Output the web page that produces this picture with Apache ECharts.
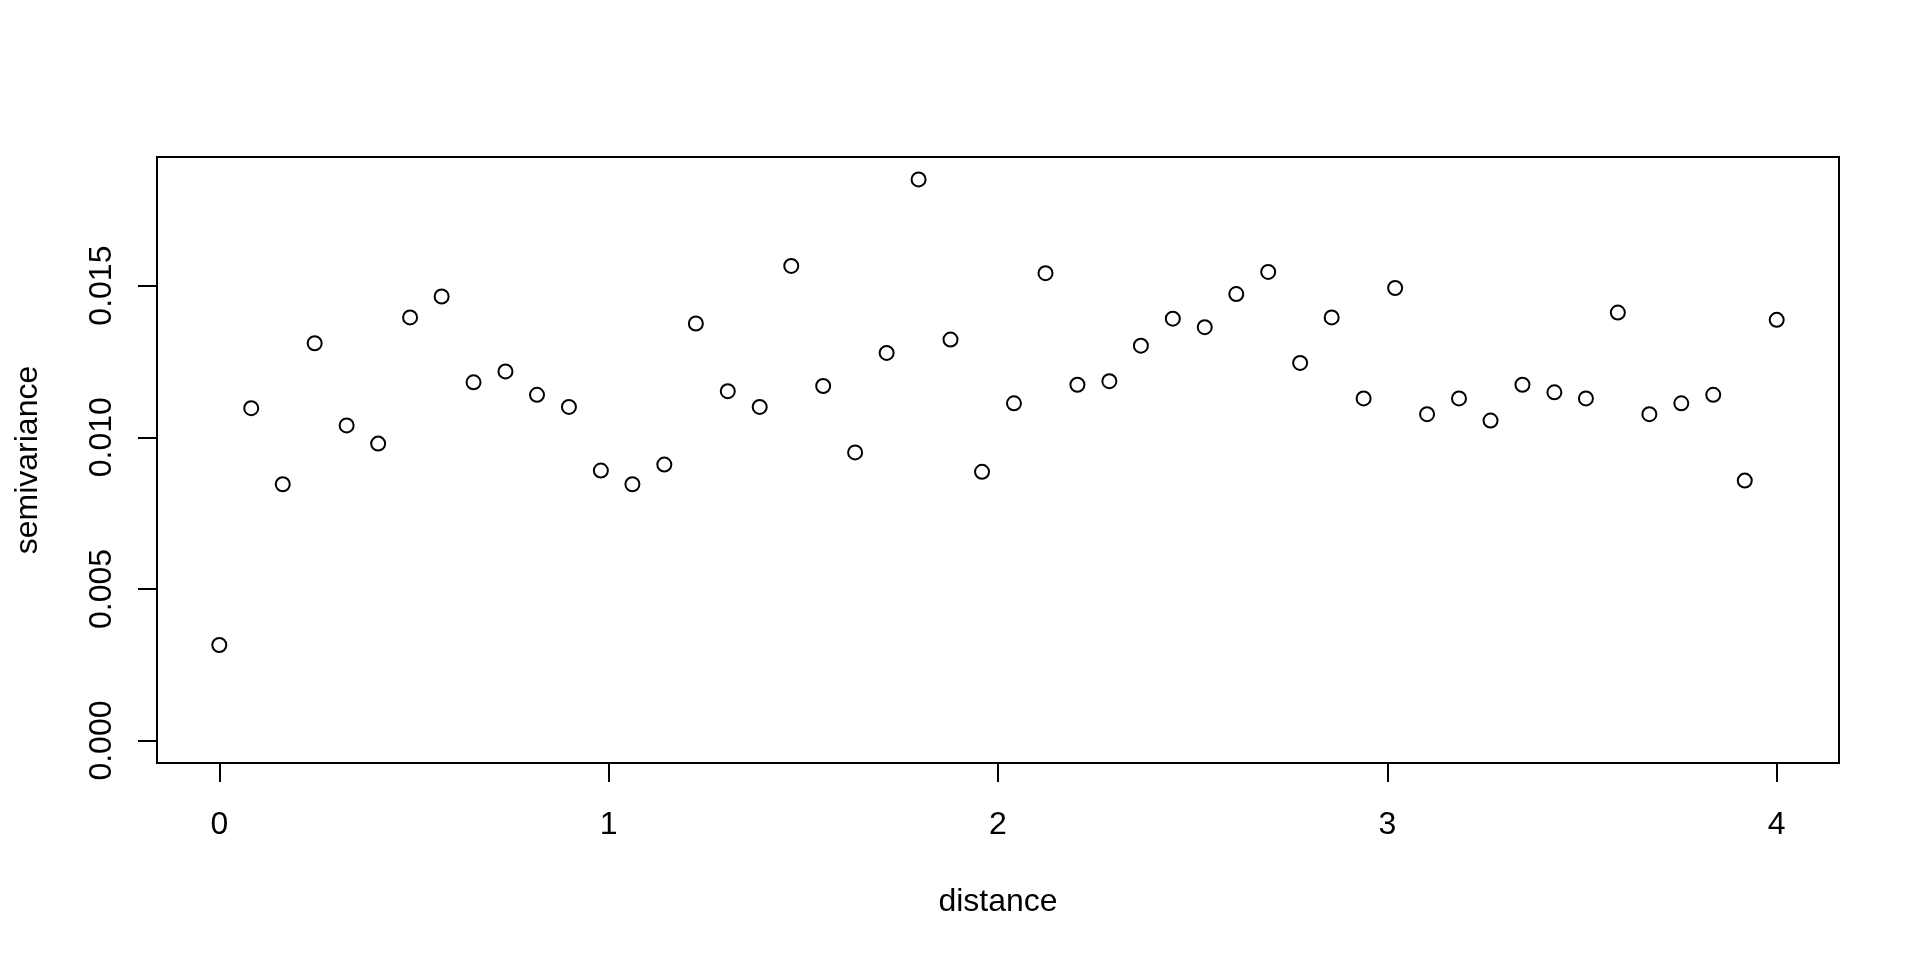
<!DOCTYPE html>
<html>
<head>
<meta charset="utf-8">
<title>semivariance</title>
<script src="https://cdn.jsdelivr.net/npm/echarts@6/dist/echarts.min.js"></script>
<style>
  html, body { margin: 0; padding: 0; background: #fff; }
  #chart { width: 1920px; height: 960px; }
</style>
</head>
<body>
<div id="chart"></div>
<script>
// lag distances (evenly spaced 0..4)
const distance = [
  0, 0.082, 0.163, 0.245, 0.327, 0.408, 0.490, 0.571, 0.653, 0.735,
  0.816, 0.898, 0.980, 1.061, 1.143, 1.224, 1.306, 1.388, 1.469, 1.551,
  1.633, 1.714, 1.796, 1.878, 1.959, 2.041, 2.122, 2.204, 2.286, 2.367,
  2.449, 2.531, 2.612, 2.694, 2.776, 2.857, 2.939, 3.020, 3.102, 3.184,
  3.265, 3.347, 3.429, 3.510, 3.592, 3.673, 3.755, 3.837, 3.918, 4.000
]
const semivariance = [
  0.00315, 0.01096, 0.00845, 0.01310, 0.01039, 0.00979, 0.01395, 0.01464, 0.01181, 0.01217,
  0.01140, 0.01100, 0.00890, 0.00845, 0.00910, 0.01375, 0.01152, 0.01100, 0.01565, 0.01169,
  0.00950, 0.01278, 0.01850, 0.01322, 0.00886, 0.01112, 0.01541, 0.01173, 0.01185, 0.01302,
  0.01391, 0.01363, 0.01472, 0.01545, 0.01245, 0.01395, 0.01128, 0.01492, 0.01076, 0.01128,
  0.01055, 0.01173, 0.01148, 0.01128, 0.01411, 0.01076, 0.01112, 0.01140, 0.00857, 0.01387
]
const xTicks = [0, 1, 2, 3, 4]
const yTicks = [0, 0.005, 0.010, 0.015]

const fontFamily = '"Liberation Sans", Arial, Helvetica, sans-serif'
const fontSize = 32

const chart = echarts.init(document.getElementById('chart'), null, { renderer: 'canvas' })

chart.setOption({
  animation: false,
  backgroundColor: '#fff',
  textStyle: { fontFamily: fontFamily, color: '#000' },
  grid: {
    left: 157,
    top: 157,
    width: 1682,
    height: 606,
    show: true,
    borderColor: '#000',
    borderWidth: 2,
    backgroundColor: 'transparent'
  },
  xAxis: {
    type: 'value',
    min: -0.16,   // R pads the range by 4%
    max: 4.16,
    name: 'distance',
    nameLocation: 'middle',
    nameGap: 123,
    nameTextStyle: { fontSize: fontSize, color: '#000', fontFamily: fontFamily },
    axisLine: { show: false, onZero: false },
    splitLine: { show: false },
    axisTick: {
      show: true,
      customValues: xTicks,
      length: 19,
      lineStyle: { color: '#000', width: 2 }
    },
    axisLabel: {
      customValues: xTicks,
      margin: 46,
      fontSize: fontSize,
      color: '#000',
      fontFamily: fontFamily
    }
  },
  yAxis: {
    type: 'value',
    min: -0.00074,
    max: 0.01924,
    name: 'semivariance',
    nameLocation: 'middle',
    nameRotate: 90,
    nameGap: 113,
    nameTextStyle: { fontSize: fontSize, color: '#000', fontFamily: fontFamily },
    axisLine: { show: false, onZero: false },
    splitLine: { show: false },
    axisTick: {
      show: true,
      customValues: yTicks,
      length: 19,
      lineStyle: { color: '#000', width: 2 }
    },
    axisLabel: {
      customValues: yTicks,
      rotate: 90,
      margin: 39,
      fontSize: fontSize,
      color: '#000',
      fontFamily: fontFamily,
      formatter: v => v.toFixed(3)
    }
  },
  series: [{
    type: 'scatter',
    data: distance.map((d, i) => [d, semivariance[i]]),
    symbol: 'circle',
    symbolSize: 14,
    itemStyle: {
      color: 'rgba(255,255,255,0)',
      borderColor: '#000',
      borderWidth: 2,
      opacity: 1
    },
    emphasis: { disabled: true }
  }]
})
</script>
</body>
</html>
